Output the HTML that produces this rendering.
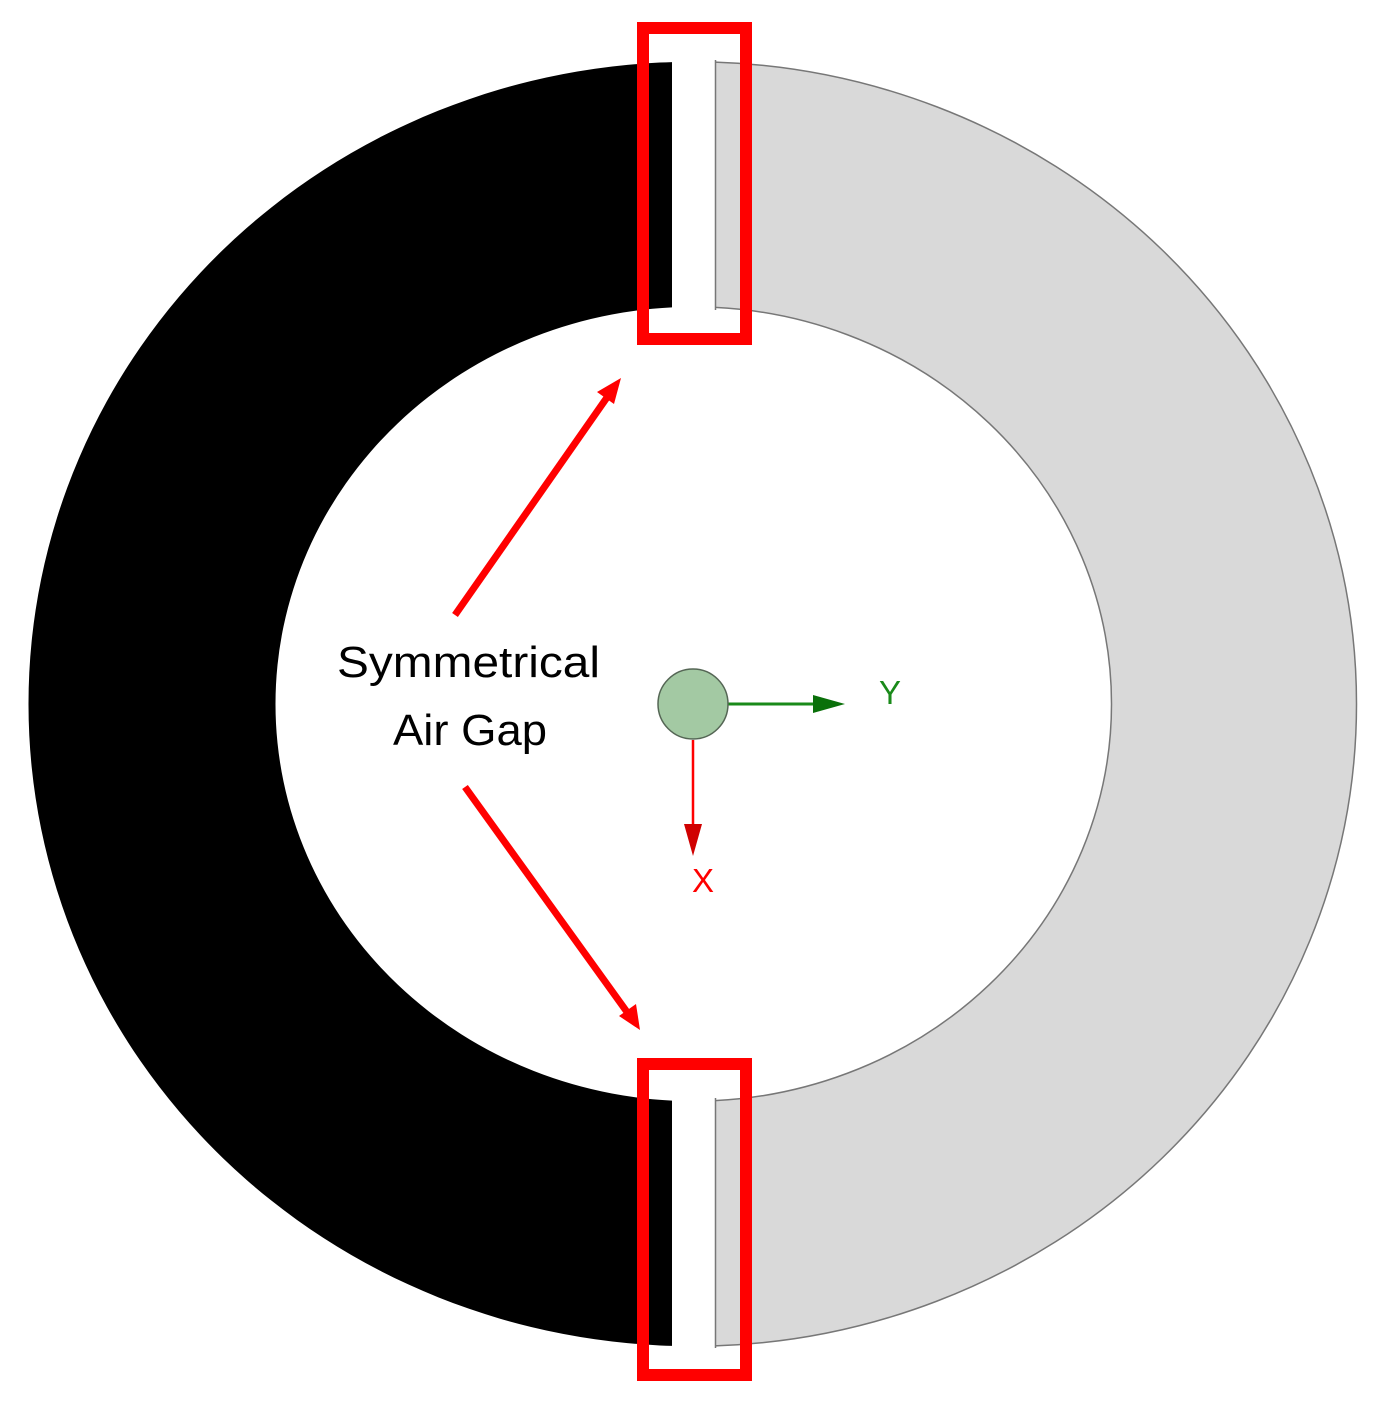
<!DOCTYPE html>
<html><head><style>body{margin:0;background:#fff}svg{display:block}</style></head>
<body>
<svg width="1393" height="1404" viewBox="0 0 1393 1404" xmlns="http://www.w3.org/2000/svg">
<defs>
<clipPath id="L"><rect x="0" y="0" width="672" height="1404"/></clipPath>
<clipPath id="R"><rect x="715" y="0" width="700" height="1404"/></clipPath>
</defs>
<path fill-rule="evenodd" fill="#000" clip-path="url(#L)" d="M28.5,704a664,642 0 1,0 1328,0a664,642 0 1,0 -1328,0Z M275.5,704a418,397 0 1,0 836,0a418,397 0 1,0 -836,0Z"/>
<path fill-rule="evenodd" fill="#d9d9d9" stroke="#777" stroke-width="1.5" clip-path="url(#R)" d="M28.5,704a664,642 0 1,0 1328,0a664,642 0 1,0 -1328,0Z M275.5,704a418,397 0 1,0 836,0a418,397 0 1,0 -836,0Z"/>
<line x1="715.5" y1="60" x2="715.5" y2="310" stroke="#777" stroke-width="1.5"/>
<line x1="715.5" y1="1098" x2="715.5" y2="1348" stroke="#777" stroke-width="1.5"/>
<rect x="643" y="28" width="103" height="311" fill="none" stroke="#ff0000" stroke-width="12"/>
<rect x="643" y="1064" width="103" height="311" fill="none" stroke="#ff0000" stroke-width="12"/>
<line x1="455" y1="615" x2="608" y2="396" stroke="#ff0000" stroke-width="7"/>
<polygon points="621,378 597,392 614,404" fill="#ff0000"/>
<line x1="465" y1="787" x2="627" y2="1012" stroke="#ff0000" stroke-width="7"/>
<polygon points="640,1030 619,1016 636,1004" fill="#ff0000"/>
<text x="337" y="677" font-family="Liberation Sans, sans-serif" font-size="44" textLength="263" lengthAdjust="spacingAndGlyphs">Symmetrical</text>
<text x="393" y="745" font-family="Liberation Sans, sans-serif" font-size="44" textLength="154" lengthAdjust="spacingAndGlyphs">Air Gap</text>
<line x1="728" y1="704" x2="815" y2="704" stroke="#1a8a1a" stroke-width="3"/>
<polygon points="813,695 845,704 813,713" fill="#0a700a"/>
<line x1="693" y1="740" x2="693" y2="826" stroke="#ff0000" stroke-width="2.5"/>
<polygon points="684,824 702,824 693,856" fill="#d00000"/>
<circle cx="693" cy="704" r="35" fill="#a3c9a3" stroke="#556655" stroke-width="1.5"/>
<text x="890" y="704" font-family="Liberation Sans, sans-serif" font-size="33" fill="#1a8a1a" text-anchor="middle">Y</text>
<text x="703" y="892" font-family="Liberation Sans, sans-serif" font-size="33" fill="#ff0000" text-anchor="middle">X</text>
</svg>
</body></html>
